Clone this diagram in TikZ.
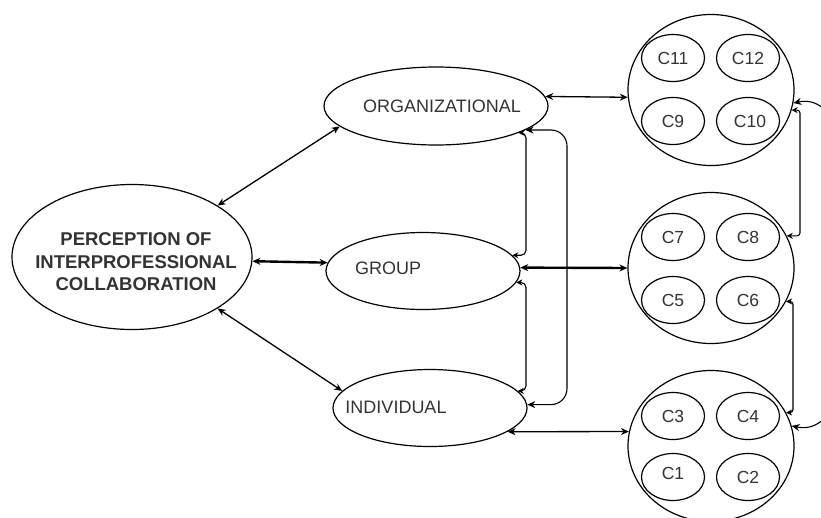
\documentclass[tikz,border=0pt]{standalone}
\usepackage{fontspec}
\setmainfont{Liberation Sans}
\usetikzlibrary{arrows.meta,shapes.geometric}
\begin{document}
\begin{tikzpicture}[x=1pt,y=-1pt,
  ell/.style={draw, ellipse, line width=1.2pt, inner sep=0pt, text=black!80},
  lbl/.style={font=\fontsize{18}{22}\selectfont, text=black!80, inner sep=0pt},
  cs/.style={ell, minimum width=63pt, minimum height=47pt, font=\fontsize{17.5}{20}\selectfont},
  bigc/.style={ell, minimum width=166pt, minimum height=151pt},
  arr/.style={{Stealth[length=8pt,width=7pt]}-{Stealth[length=8pt,width=7pt]}, line width=1.3pt},
  thickarr/.style={arr, line width=2.4pt},
  thinarr/.style={{Stealth[length=6pt,width=6pt]}-{Stealth[length=6pt,width=6pt]}, line width=1.1pt},
]
\useasboundingbox (0,0) rectangle (821,517);
\clip (0,0) rectangle (821,517);

% main concept
\node[ell, minimum width=240pt, minimum height=145pt,
      label={[lbl, align=center, font=\fontsize{18.5}{22.5}\selectfont\bfseries, yshift=-5pt, xshift=4pt]center:PERCEPTION OF\\INTERPROFESSIONAL\\COLLABORATION}] (main) at (132,257) {};

% levels
\node[ell, minimum width=224pt, minimum height=78pt,
      label={[lbl, xshift=6pt]center:ORGANIZATIONAL}] (org) at (436,106) {};
\node[ell, minimum width=194pt, minimum height=77pt,
      label={[lbl, xshift=-35pt, yshift=3pt]center:GROUP}] (group) at (423,271) {};
\node[ell, minimum width=194pt, minimum height=77pt,
      label={[lbl, xshift=-34pt, yshift=1pt]center:INDIVIDUAL}] (ind) at (430,408) {};

% clusters
\node[bigc] (top) at (711,90) {};
\node[bigc] (mid) at (711,268) {};
\node[bigc] (bot) at (711,446) {};

\node[cs] (c11) at (673,58) {C11};
\node[cs] (c12) at (748,58) {C12};
\node[cs] (c9)  at (673,121) {C9};
\node[cs] (c10) at (748,121) {\hspace*{4pt}C10};
\node[cs] (c7)  at (673,237) {C7};
\node[cs] (c8)  at (748,237) {C8};
\node[cs] (c5)  at (673,300) {C5};
\node[cs] (c6)  at (748,300) {C6};
\node[cs] (c3)  at (673,416) {C3};
\node[cs] (c4)  at (748,416) {C4};
\node[cs] (c1)  at (673,477) {\raisebox{7pt}{C1}};
\node[cs] (c2)  at (748,477) {\raisebox{-2pt}{C2}};

% bracket columns
\coordinate (xa) at (526,0);
\coordinate (xb) at (567,0);
\coordinate (xc) at (800,0);
\coordinate (xd) at (793,0);
\coordinate (xe1) at (850,200);
\coordinate (xe2) at (850,330);

% connectors from the main concept
\draw[arr] (main.31) -- (org.192);
\draw[thickarr] (main.-2) -- (group.175);
\draw[arr] (main.-31) -- (ind.169);

% levels to clusters
\draw[arr] (org.5) -- (top.185);
\draw[thickarr] (group.2) -- (mid.180);
\draw[arr] (ind.-17) -- (bot.170);

% brackets between levels
\draw[thinarr, rounded corners=5pt] (org.-18) -| (xa |- group.10) -- (group.10);
\draw[thinarr, rounded corners=5pt] (group.-7) -| (xa |- ind.11) -- (ind.11);
\draw[arr, line width=1.1pt, rounded corners=16pt] (org.-15) -| (xb |- ind.2) -- (ind.2);

% brackets between clusters
\draw[thinarr, rounded corners=3pt] (top.-14) -| (xc |- mid.23) -- (mid.23);
\draw[thinarr, rounded corners=3pt] (mid.-24) -| (xd |- bot.24) -- (bot.24);
\draw[arr, line width=1.1pt] (top.-9) to[out=12, in=90] (xe1) -- (xe2) to[out=-90, in=-12] (bot.14);
\end{tikzpicture}
\end{document}
